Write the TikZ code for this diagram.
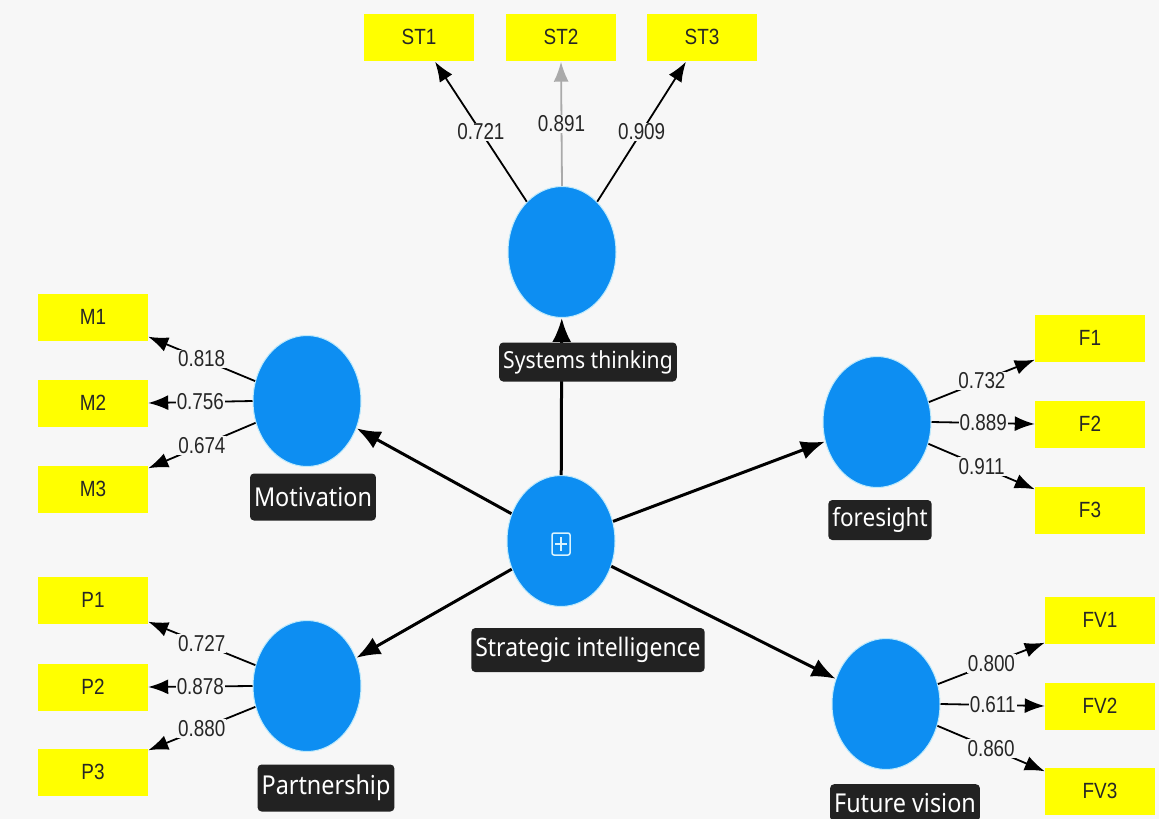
\documentclass[tikz,border=0pt]{standalone}
\usepackage{fontspec}
\usetikzlibrary{arrows.meta,calc,shapes.geometric}
\newfontfamily\boxfont{Liberation Sans}[FakeStretch=0.86]
\newfontfamily\numfont{Liberation Sans}[FakeStretch=0.82]
\newfontfamily\lblfont{Noto Sans}[FakeStretch=0.9]
\definecolor{bgcol}{HTML}{F7F7F7}
\definecolor{lvblue}{HTML}{0D8EF2}
\definecolor{indyellow}{HTML}{FFFF00}
\definecolor{tagdark}{HTML}{222222}
\definecolor{lightgrayarrow}{HTML}{AAAAAA}
\begin{document}
\begin{tikzpicture}[x=1pt,y=-1pt,
  lv/.style={ellipse, fill=lvblue, draw=cyan!25, line width=1pt, minimum width=108pt, minimum height=131pt, inner sep=0pt},
  indbox/.style={rectangle, fill=indyellow, minimum width=110pt, minimum height=47pt, inner sep=0pt, text=black!85, font=\boxfont\fontsize{22}{24}\selectfont},
  tagbox/.style={rectangle, rounded corners=4pt, fill=tagdark, text=white, inner xsep=4pt, inner ysep=0pt},
  structarrow/.style={line width=3pt, -{Latex[length=24pt,width=19pt]}},
  loadarrow/.style={line width=1.8pt, -{Latex[length=20pt,width=15pt]}},
  numlbl/.style={fill=bgcol, inner sep=1pt, text=black!85, font=\numfont\fontsize{23}{25}\selectfont}
]
\clip (0,0) rectangle (1159,819);
\fill[bgcol] (0,0) rectangle (1159,819);

% latent variables
\node[lv] (SI) at (561,541) {};
\node[lv] (ST) at (562,252) {};
\node[lv] (Mot) at (307,401) {};
\node[lv] (Par) at (307,686) {};
\node[lv] (For) at (877,422) {};
\node[lv] (FV) at (886,704) {};

% icon in SI
\draw[draw=cyan!15!white, line width=1.5pt, rounded corners=2pt] (552,533) rectangle (570,555);
\draw[draw=cyan!15!white, line width=1.5pt] (561,537) -- (561,551) (555,544) -- (567,544);

% indicators
\node[indbox] (ST1) at (419,37) {ST1};
\node[indbox] (ST2) at (561,37) {ST2};
\node[indbox] (ST3) at (702,37) {ST3};
\node[indbox] (M1) at (93,317) {M1};
\node[indbox] (M2) at (93,403) {M2};
\node[indbox] (M3) at (93,489) {M3};
\node[indbox] (P1) at (93,600) {P1};
\node[indbox] (P2) at (93,687) {P2};
\node[indbox] (P3) at (93,772) {P3};
\node[indbox] (F1) at (1090,338) {F1};
\node[indbox] (F2) at (1090,424) {F2};
\node[indbox] (F3) at (1090,510) {F3};
\node[indbox] (FV1) at (1100,620) {FV1};
\node[indbox] (FV2) at (1100,706) {FV2};
\node[indbox] (FV3) at (1100,791) {FV3};

% structural paths
\draw[structarrow] (SI) -- (ST);
\draw[structarrow] (SI) -- (Mot);
\draw[structarrow] (SI) -- (Par);
\draw[structarrow] (SI) -- (For);
\draw[structarrow] (SI) -- (FV);

% loadings: systems thinking
\draw[loadarrow] (ST.125) -- node[numlbl] (lst1) {0.721} ($(ST1.south)+(16,1)$);
\draw[loadarrow, draw=lightgrayarrow] (ST.north) -- node[numlbl, pos=0.5] (lst2) {0.891} ($(ST2.south)+(0,1)$);
\draw[loadarrow] (ST.55) -- node[numlbl] (lst3) {0.909} ($(ST3.south)+(-16,1)$);

% motivation
\draw[loadarrow] (Mot.159) -- node[numlbl] (lm1) {0.818} ($(M1.south east)+(0,-4)$);
\draw[loadarrow] (Mot.180) -- node[numlbl] (lm2) {0.756} (M2.east);
\draw[loadarrow] (Mot.203) -- node[numlbl] (lm3) {0.674} ($(M3.north east)+(0,3)$);

% partnership
\draw[loadarrow] (Par.158) -- node[numlbl] (lp1) {0.727} ($(P1.south east)+(0,-2)$);
\draw[loadarrow] (Par.180) -- node[numlbl] (lp2) {0.878} (P2.east);
\draw[loadarrow] (Par.202) -- node[numlbl] (lp3) {0.880} ($(P3.north east)+(0,2)$);

% foresight
\draw[loadarrow] (For.21) -- node[numlbl] (lf1) {0.732} ($(F1.south west)+(0,-2)$);
\draw[loadarrow] (For.0) -- node[numlbl] (lf2) {0.889} (F2.west);
\draw[loadarrow] (For.337) -- node[numlbl] (lf3) {0.911} ($(F3.north west)+(0,3)$);

% future vision
\draw[loadarrow] (FV.21) -- node[numlbl] (lfv1) {0.800} ($(FV1.south west)+(0,-1)$);
\draw[loadarrow] (FV.0) -- node[numlbl] (lfv2) {0.611} (FV2.west);
\draw[loadarrow] (FV.337) -- node[numlbl] (lfv3) {0.860} ($(FV3.north west)+(0,4)$);

% tags
\node[tagbox, minimum height=39pt, font=\lblfont\fontsize{23.5}{26}\selectfont] (tST) at (588,362) {Systems thinking};
\node[tagbox, minimum height=47pt, font=\lblfont\fontsize{26}{28}\selectfont] (tMot) at (313,497) {Motivation};
\node[tagbox, minimum height=47pt, font=\lblfont\fontsize{26}{28}\selectfont] (tPar) at (326,788) {Partnership};
\node[tagbox, minimum height=40pt, font=\lblfont\fontsize{25}{27}\selectfont] (tFor) at (880,520) {foresight};
\node[tagbox, minimum height=44pt, font=\lblfont\fontsize{25.5}{28}\selectfont] (tSI) at (588,650) {Strategic intelligence};
\node[tagbox, minimum height=37pt, font=\lblfont\fontsize{26}{28}\selectfont, anchor=north] (tFV) at (905,784) {Future vision};
\end{tikzpicture}
\end{document}
